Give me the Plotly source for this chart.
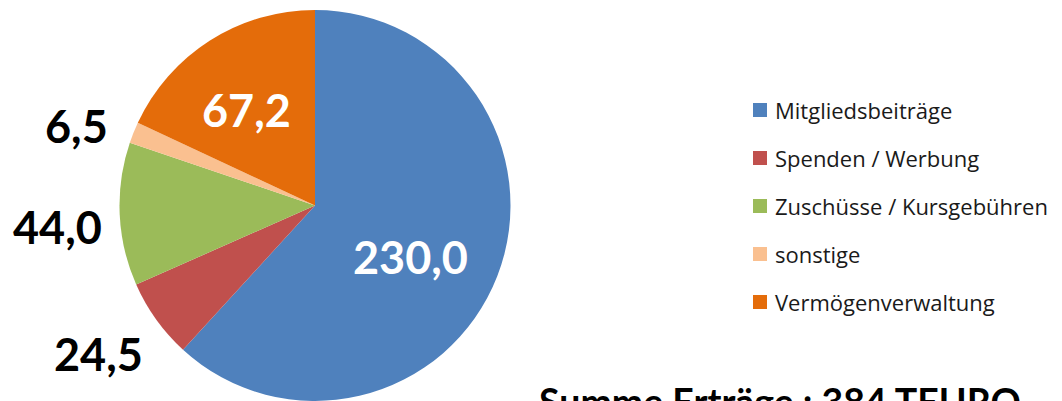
import plotly.graph_objects as go

labels = ["Mitgliedsbeiträge", "Spenden / Werbung", "Zuschüsse / Kursgebühren", "sonstige", "Vermögenverwaltung"]
values = [230.0, 24.5, 44.0, 6.5, 67.2]
colors = ["#4F81BD", "#C0504D", "#9BBB59", "#FAC090", "#E46C0A"]
label_colors = ["white", "black", "black", "black", "white"]
total_text = "Summe Erträge : 384 TEURO"


def fmt(v):
    return f"{v:.1f}".replace(".", ",")


# the page places the figure 8px from the top-left corner
OFF = 8
W, H = 1062 - OFF, 401 - OFF
NUM_FONT = "Lato"
TXT_FONT = "Open Sans"


def px(sx):
    return (sx - OFF) / W


def py(sy):
    return 1 - (sy - OFF) / H


fig = go.Figure()
fig.add_trace(go.Pie(
    labels=labels,
    values=values,
    sort=False,
    direction="clockwise",
    rotation=0,
    marker=dict(colors=colors, line=dict(width=0)),
    textinfo="none",
    domain=dict(x=[px(118), px(512)], y=[0.0, py(10)]),
    showlegend=False,
    hoverinfo="label+value",
))

# value labels (screen pixel centres of the digits)
label_pos = [(410, 257), (98, 354), (57, 227), (76, 126), (246, 110)]
annotations = []
for v, c, (sx, sy) in zip(values, label_colors, label_pos):
    annotations.append(dict(
        x=px(sx), y=py(sy), xref="paper", yref="paper",
        text=fmt(v), showarrow=False,
        xanchor="center", yanchor="middle",
        font=dict(family=NUM_FONT, size=45, color=c, weight="bold"),
    ))

# manual legend
shapes = []
for k, (lab, col) in enumerate(zip(labels, colors)):
    cy = 110 + 48 * k
    shapes.append(dict(
        type="rect", xref="paper", yref="paper",
        x0=px(753), x1=px(767), y0=py(cy + 7), y1=py(cy - 7),
        fillcolor=col, line=dict(width=0),
    ))
    annotations.append(dict(
        x=px(773), y=py(cy), xref="paper", yref="paper",
        text=lab, showarrow=False, xanchor="left", yanchor="middle",
        font=dict(family=TXT_FONT, size=22, color="#1a1a1a"),
    ))

annotations.append(dict(
    x=px(537), y=py(377), xref="paper", yref="paper",
    text=total_text, showarrow=False, xanchor="left", yanchor="top",
    font=dict(family=NUM_FONT, size=37.5, color="black", weight="bold"),
))

fig.update_layout(
    width=W, height=H,
    margin=dict(l=0, r=0, t=0, b=0),
    paper_bgcolor="white", plot_bgcolor="white",
    annotations=annotations, shapes=shapes,
    showlegend=False,
)

fig.write_html("out.html")
